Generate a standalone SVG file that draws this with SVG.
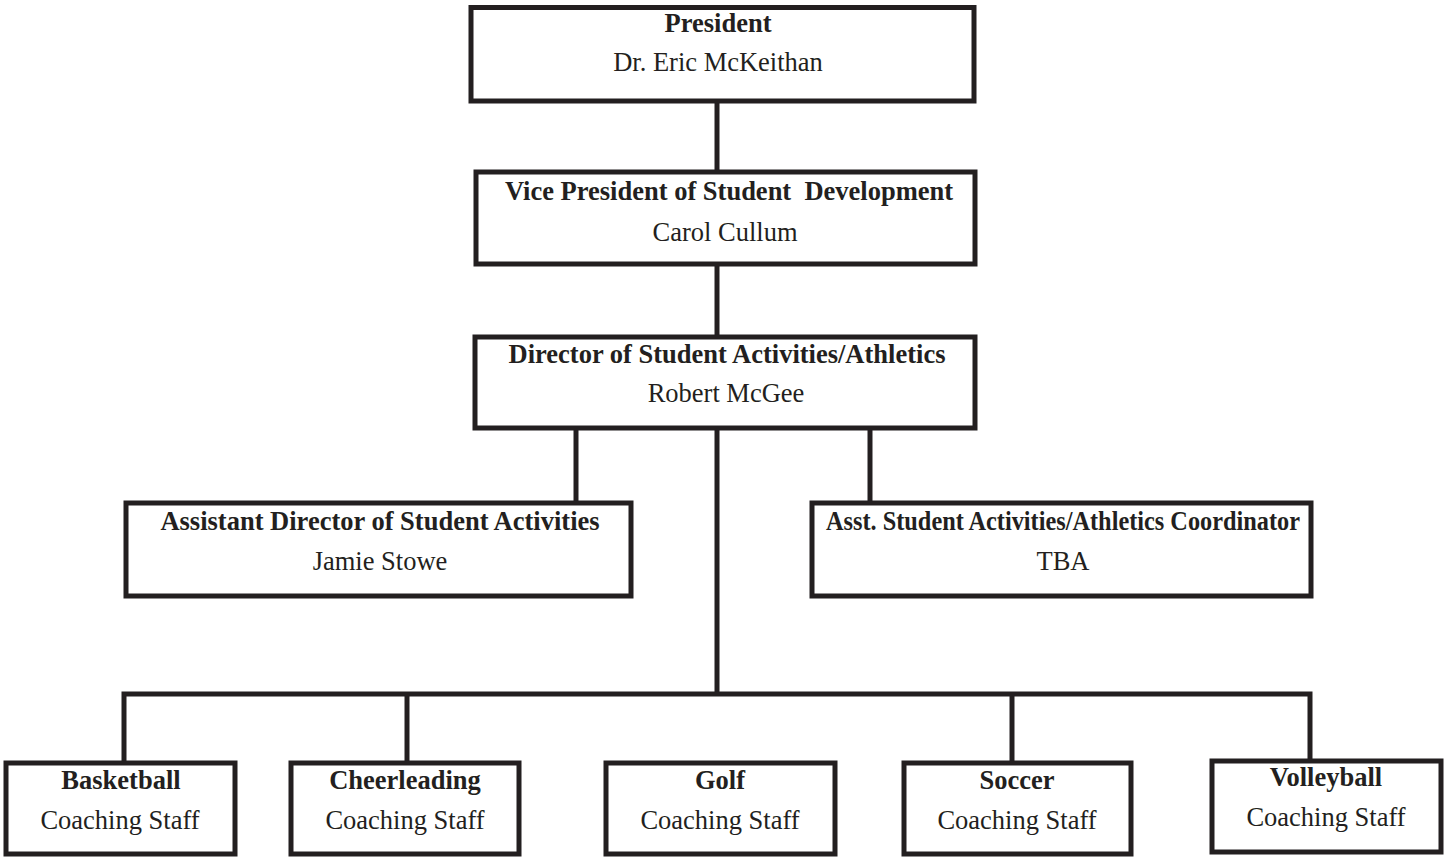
<svg xmlns="http://www.w3.org/2000/svg" width="1448" height="858" viewBox="0 0 1448 858">
<style>
.box{fill:#fff;stroke:#231f20;stroke-width:5}
.con{fill:none;stroke:#231f20;stroke-width:5}
.t{font-family:"Liberation Serif","Times New Roman",serif;font-size:26.5px;fill:#231f20;text-anchor:middle}
.b{font-weight:bold}
</style>
<rect width="1448" height="858" fill="#fff"/>
<g id="connectors">
<line class="con" x1="717" y1="101" x2="717" y2="172"/>
<line class="con" x1="717" y1="264" x2="717" y2="337"/>
<line class="con" x1="576" y1="428" x2="576" y2="503"/>
<line class="con" x1="870" y1="428" x2="870" y2="503"/>
<line class="con" x1="717" y1="428" x2="717" y2="694"/>
<polyline class="con" points="124,763 124,694 1310,694 1310,761"/>
<line class="con" x1="407" y1="694" x2="407" y2="763"/>
<line class="con" x1="1012" y1="694" x2="1012" y2="763"/>
</g>
<g id="president">
<rect class="box" x="471" y="7.5" width="503" height="93.5"/>
<text class="t b" x="718" y="32">President</text>
<text class="t" x="718" y="71">Dr. Eric McKeithan</text>
</g>
<g id="vp">
<rect class="box" x="476" y="172" width="499" height="92"/>
<text class="t b" x="729" y="200" xml:space="preserve">Vice President of Student  Development</text>
<text class="t" x="725" y="241">Carol Cullum</text>
</g>
<g id="director">
<rect class="box" x="475" y="337" width="500" height="91"/>
<text class="t b" x="727" y="363">Director of Student Activities/Athletics</text>
<text class="t" x="726" y="402">Robert McGee</text>
</g>
<g id="asst-director">
<rect class="box" x="126" y="503" width="505" height="93"/>
<text class="t b" x="380" y="530">Assistant Director of Student Activities</text>
<text class="t" x="380" y="570">Jamie Stowe</text>
</g>
<g id="asst-coordinator">
<rect class="box" x="812" y="503" width="499" height="93"/>
<text class="t b" x="1063" y="530" textLength="474" lengthAdjust="spacingAndGlyphs">Asst. Student Activities/Athletics Coordinator</text>
<text class="t" x="1063" y="570">TBA</text>
</g>
<g id="basketball">
<rect class="box" x="6" y="763" width="229" height="91"/>
<text class="t b" x="121" y="789">Basketball</text>
<text class="t" x="120" y="829">Coaching Staff</text>
</g>
<g id="cheerleading">
<rect class="box" x="291" y="763" width="228" height="91"/>
<text class="t b" x="405" y="789">Cheerleading</text>
<text class="t" x="405" y="829">Coaching Staff</text>
</g>
<g id="golf">
<rect class="box" x="606" y="763" width="229" height="91"/>
<text class="t b" x="720" y="789">Golf</text>
<text class="t" x="720" y="829">Coaching Staff</text>
</g>
<g id="soccer">
<rect class="box" x="904" y="763" width="227" height="91"/>
<text class="t b" x="1017" y="789">Soccer</text>
<text class="t" x="1017" y="829">Coaching Staff</text>
</g>
<g id="volleyball">
<rect class="box" x="1212" y="761" width="229" height="91"/>
<text class="t b" x="1326" y="786">Volleyball</text>
<text class="t" x="1326" y="826">Coaching Staff</text>
</g>
</svg>
